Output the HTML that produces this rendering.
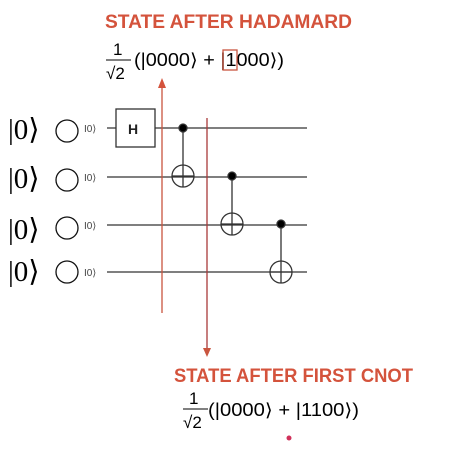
<!DOCTYPE html>
<html><head><meta charset="utf-8"><style>
body{margin:0;background:#fff;width:450px;height:468px;overflow:hidden}
svg{display:block}
</style></head><body>
<svg width="450" height="468" font-family="Liberation Sans, sans-serif">
<text x="105" y="28" font-size="19" font-weight="bold" fill="#d4533c" textLength="247" lengthAdjust="spacingAndGlyphs">STATE AFTER HADAMARD</text>
<g>
<text x="113" y="55" font-size="17">1</text>
<line x1="106" y1="60" x2="131" y2="60" stroke="#000" stroke-width="1"/>
<text x="106" y="79" font-size="17">√2</text>
<text x="134" y="66" font-size="18" textLength="150" lengthAdjust="spacingAndGlyphs">(|0000⟩ + |1000⟩)</text>
<rect x="223" y="50" width="14" height="20" fill="none" stroke="#c9553f" stroke-width="1.3"/>
</g>
<g stroke="#333" stroke-width="1.3">
<line x1="107" y1="128" x2="307" y2="128"/>
<line x1="107" y1="177" x2="307" y2="177"/>
<line x1="107" y1="225" x2="307" y2="225"/>
<line x1="107" y1="272" x2="307" y2="272"/>
</g>
<g font-family="Liberation Serif, serif" font-size="29">
<text x="8" y="139">|0⟩</text><text x="8" y="188">|0⟩</text><text x="8" y="239">|0⟩</text><text x="8" y="281">|0⟩</text>
</g>
<g fill="none" stroke="#111" stroke-width="1.3">
<circle cx="67" cy="131" r="11"/><circle cx="67" cy="180" r="11"/><circle cx="67" cy="228" r="11"/><circle cx="67" cy="272" r="11"/>
</g>
<g font-size="10" fill="#444">
<text x="84" y="132">I0⟩</text><text x="84" y="181">I0⟩</text><text x="84" y="229">I0⟩</text><text x="84" y="276">I0⟩</text>
</g>
<g>
<rect x="116" y="109" width="39" height="38" fill="#fff" stroke="#333" stroke-width="1.3"/>
<text x="128" y="134" font-size="14" font-weight="bold" fill="#222">H</text>
</g>
<g stroke="#333" stroke-width="1.3" fill="none">
<line x1="183" y1="128" x2="183" y2="187"/><circle cx="183" cy="128" r="4" fill="#000"/><circle cx="183" cy="176" r="11"/><line x1="172" y1="176" x2="194" y2="176"/>
<line x1="232" y1="176" x2="232" y2="235"/><circle cx="232" cy="176" r="4" fill="#000"/><circle cx="232" cy="224" r="11"/><line x1="221" y1="224" x2="243" y2="224"/>
<line x1="281" y1="224" x2="281" y2="283"/><circle cx="281" cy="224" r="4" fill="#000"/><circle cx="281" cy="272" r="11"/><line x1="270" y1="272" x2="292" y2="272"/>
</g>
<g>
<line x1="162" y1="86" x2="162" y2="313" stroke="#c9553f" stroke-width="1.3"/>
<polygon points="158,88 166,88 162,78" fill="#d4533c"/>
</g>
<g>
<line x1="207" y1="118" x2="207" y2="350" stroke="#a93a3a" stroke-width="1.3"/>
<polygon points="203,348 211,348 207,357" fill="#c9553f"/>
</g>
<text x="174" y="382" font-size="19" font-weight="bold" fill="#d4533c" textLength="239" lengthAdjust="spacingAndGlyphs">STATE AFTER FIRST CNOT</text>
<g>
<text x="189" y="404" font-size="17">1</text>
<line x1="183" y1="409" x2="208" y2="409" stroke="#000" stroke-width="1"/>
<text x="183" y="428" font-size="17">√2</text>
<text x="208" y="416" font-size="18" textLength="151" lengthAdjust="spacingAndGlyphs">(|0000⟩ + |1100⟩)</text>
</g>
<circle cx="289" cy="438" r="2.5" fill="#d0305a"/>
</svg>
</body></html>
